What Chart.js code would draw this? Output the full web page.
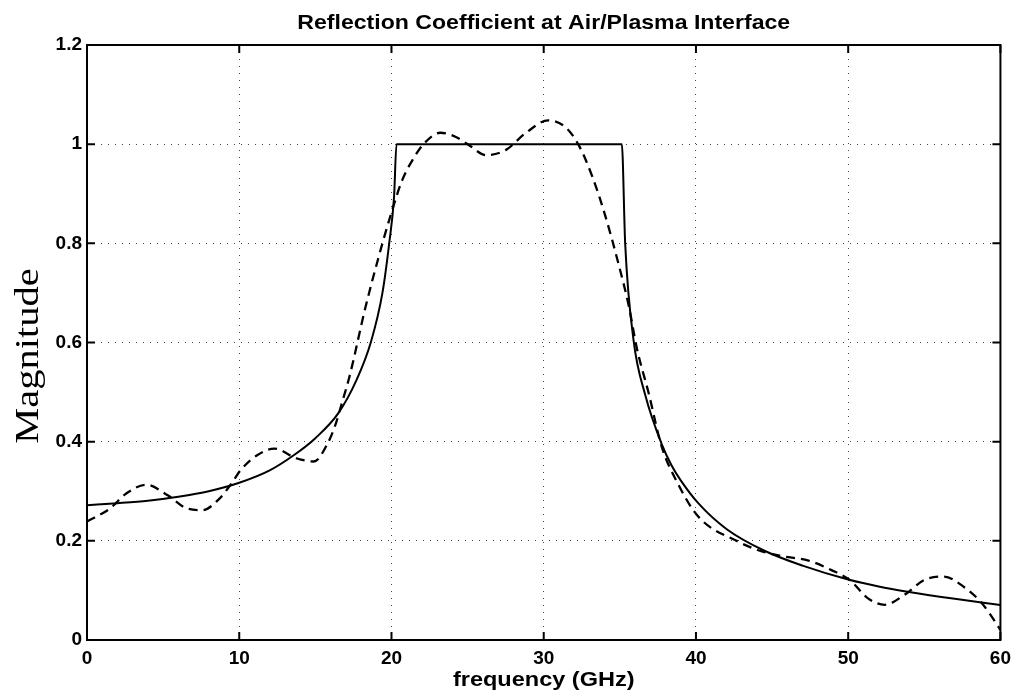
<!DOCTYPE html>
<html>
<head>
<meta charset="utf-8">
<title>Reflection Coefficient at Air/Plasma Interface</title>
<script src="https://cdn.jsdelivr.net/npm/chart.js@4.4.1/dist/chart.umd.min.js"></script>
<style>
    body { margin: 0; background: #fff; }
    #wrap { width: 1018px; height: 692px; }
</style>
</head>
<body>
<div id="wrap"><canvas id="chart" width="1018" height="692"></canvas></div>
<script>
// solid line: exact reflection coefficient
const freqSolid = [0, 2, 4, 6, 8, 10, 12, 13.6, 15, 16.5, 17.7, 18.65, 19.4, 19.85, 20.17, 20.33,
    35.13, 35.35, 35.9, 36.66, 37.75, 38.4, 39, 40.15, 42, 44.5, 47, 50, 52, 54, 57, 60];
const magSolid = [0.272, 0.276, 0.281, 0.289, 0.300, 0.317, 0.342, 0.373, 0.407, 0.457, 0.524, 0.601, 0.699, 0.80, 0.894, 1.0,
    1.0, 0.80, 0.605, 0.495, 0.395, 0.352, 0.322, 0.276, 0.224, 0.180, 0.150, 0.122, 0.108, 0.097, 0.083, 0.0706];

// dashed line: approximation (ripples)
const freqDashed = [0, 1.5, 2.6, 3.9, 5.3, 6.6, 7.6, 8.6, 9.5, 10.1, 11.2, 12.3, 13.8, 14.9, 15.8, 16.35, 16.8, 17.23,
    18.3, 19.1, 19.85, 20.7, 21.5, 22.1, 23.2, 24.2, 25.1, 26.2, 27.5, 28.8, 30.3, 31.4, 32.3, 33.2, 34.0, 34.9,
    35.6, 36.1, 36.9, 37.75, 38.8, 40.15, 42.8, 44.1, 45.5, 47.4, 48.9, 50.1, 51.3, 52.4, 53.7, 55.0, 56.3, 57.6,
    58.7, 59.8, 60];
const magDashed = [0.239, 0.265, 0.296, 0.313, 0.292, 0.265, 0.262, 0.282, 0.316, 0.343, 0.373, 0.386, 0.366, 0.36, 0.396, 0.437, 0.484, 0.53,
    0.672, 0.766, 0.847, 0.927, 0.974, 1.0, 1.023, 1.015, 0.998, 0.978, 0.988, 1.022, 1.048, 1.035, 0.998, 0.934, 0.86, 0.76,
    0.672, 0.591, 0.497, 0.39, 0.316, 0.249, 0.198, 0.181, 0.170, 0.160, 0.141, 0.121, 0.084, 0.071, 0.091, 0.121, 0.128, 0.107,
    0.077, 0.030, 0.02];

const xTicks = [0, 10, 20, 30, 40, 50, 60];
const yTicks = [0, 0.2, 0.4, 0.6, 0.8, 1, 1.2];

const titleText = 'Reflection Coefficient at Air/Plasma Interface';
const xLabel = 'frequency (GHz)';
const yLabel = 'Magnitude';

const toPoints = (xs, ys) => xs.map((x, i) => ({ x: x, y: ys[i] }));

// text drawn a bit wide, like the scanned original
function wideText(ctx, text, x, y, font, sx, rot) {
    ctx.save();
    ctx.translate(x, y);
    if (rot) ctx.rotate(rot);
    ctx.scale(sx, 1);
    ctx.font = font;
    ctx.fillStyle = '#000';
    ctx.textAlign = 'center';
    ctx.textBaseline = 'middle';
    ctx.fillText(text, 0, 0);
    ctx.restore();
}

// matlab style box with inward ticks, plus the labels
const framePlugin = {
    id: 'frame',
    afterDatasetsDraw(chart) {
        const { ctx, chartArea: a, scales } = chart;
        const len = 8;
        ctx.save();
        ctx.strokeStyle = '#000';
        ctx.lineWidth = 2;
        ctx.strokeRect(a.left, a.top, a.right - a.left, a.bottom - a.top);
        ctx.beginPath();
        xTicks.forEach(v => {
            const px = scales.x.getPixelForValue(v);
            ctx.moveTo(px, a.bottom); ctx.lineTo(px, a.bottom - len);
            ctx.moveTo(px, a.top); ctx.lineTo(px, a.top + len);
        });
        yTicks.forEach(v => {
            const py = scales.y.getPixelForValue(v);
            ctx.moveTo(a.left, py); ctx.lineTo(a.left + len, py);
            ctx.moveTo(a.right, py); ctx.lineTo(a.right - len, py);
        });
        ctx.stroke();
        ctx.restore();

        const cx = (a.left + a.right) / 2;
        wideText(ctx, titleText, cx, 23, 'bold 21px "Liberation Sans", Arial, sans-serif', 1.1);
        wideText(ctx, xLabel, cx, 680, 'bold 21px "Liberation Sans", Arial, sans-serif', 1.12);
        wideText(ctx, yLabel, 29, 356, '34px "Liberation Serif", "Times New Roman", serif', 1.19, -Math.PI / 2);
    }
};

const tickFont = { family: 'Liberation Sans, Arial, sans-serif', size: 19, weight: 'bold' };

new Chart(document.getElementById('chart'), {
    type: 'line',
    data: {
        datasets: [{
            label: 'exact',
            data: toPoints(freqSolid, magSolid),
            borderColor: '#000',
            borderWidth: 2,
            pointRadius: 0,
            cubicInterpolationMode: 'monotone',
            fill: false
        }, {
            label: 'approx',
            data: toPoints(freqDashed, magDashed),
            borderColor: '#000',
            borderWidth: 2.3,
            borderDash: [9, 6],
            pointRadius: 0,
            cubicInterpolationMode: 'monotone',
            fill: false
        }]
    },
    options: {
        responsive: false,
        animation: false,
        devicePixelRatio: 1,
        layout: { padding: { left: 0, right: 15, top: 45, bottom: 0 } },
        plugins: {
            legend: { display: false },
            tooltip: { enabled: false },
            title: { display: false }
        },
        scales: {
            x: {
                type: 'linear',
                min: 0,
                max: 60,
                afterBuildTicks: s => { s.ticks = xTicks.map(v => ({ value: v })); },
                afterFit: s => { s.height = 52; },
                ticks: { color: '#000', font: tickFont, padding: 7, callback: v => String(v), maxRotation: 0 },
                grid: { color: '#444', lineWidth: 1, drawTicks: false },
                border: { display: false, dash: [1, 6] }
            },
            y: {
                type: 'linear',
                min: 0,
                max: 1.2,
                afterBuildTicks: s => { s.ticks = yTicks.map(v => ({ value: v })); },
                afterFit: s => { s.width = 87; },
                ticks: { color: '#000', font: tickFont, padding: 5, callback: v => String(v) },
                grid: { color: '#444', lineWidth: 1, drawTicks: false },
                border: { display: false, dash: [1, 6] }
            }
        }
    },
    plugins: [framePlugin]
});
</script>
</body>
</html>
